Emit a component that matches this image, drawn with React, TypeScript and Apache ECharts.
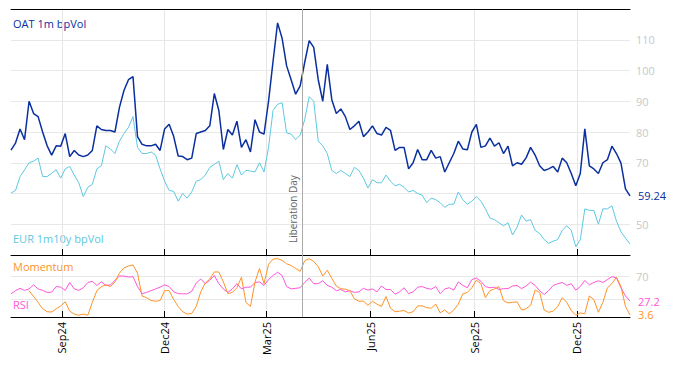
import React, { useEffect, useRef } from "react";
import * as echarts from "echarts";

// Sample dates: every STEP_DAYS calendar days starting at START (UTC)
const START = Date.UTC(2024, 6, 18);
const END = Date.UTC(2026, 0, 17);
const STEP_DAYS = 4;

const tickDates = [
  Date.UTC(2024, 8, 1),
  Date.UTC(2024, 11, 1),
  Date.UTC(2025, 2, 1),
  Date.UTC(2025, 5, 1),
  Date.UTC(2025, 8, 1),
  Date.UTC(2025, 11, 1),
];
const tickLabels = ["Sep24", "Dec24", "Mar25", "Jun25", "Sep25", "Dec25"];
const volAxisLabels = [50, 70, 80, 90, 100, 110];
const liberationDay = Date.UTC(2025, 3, 2);

const oatVol = [
  74.1, 76.4, 81, 77.5, 90, 86, 85, 80, 75.5, 72.5, 75.5, 75.4, 79.5, 72, 74, 72.5, 72, 72.5, 74, 82,
  80.8, 80.5, 80.5, 80, 88, 93.5, 97, 98, 78.5, 76, 75.5, 75.5, 76, 74, 81,
  82.5, 78.6, 72.2, 72, 71, 71.5, 79.5, 80, 80.5, 82, 92.5, 87, 74.3, 80.8, 79, 83.5, 75, 77.5, 73.5, 84,
  80, 79.3, 90, 103, 115.5, 110.5, 101.5, 97, 92.3, 95, 102.6, 109.7, 107.5, 97,
  90, 102, 90.5, 86, 87.5, 85, 80.8, 82, 83.5, 78.5, 80, 82, 79.5, 79, 81.5, 80.5, 74, 75, 75, 68,
  70, 74.3, 71, 71, 74, 71.5, 72, 67, 70, 73, 77, 74.5, 74.2, 80,
  82.5, 75, 75.5, 78, 75.4, 76.5, 73, 75.4, 69, 70, 69.5, 71.6, 75, 72.5, 69, 67.5, 68, 68.8, 67, 71.5,
  70, 66.5, 62.5, 66.5, 81, 69, 68, 66.5, 70, 71, 75.4, 73, 69.9, 61.5, 59.24,
];

const eurVol = [
  60.1, 61, 65.5, 67.7, 70, 70.5, 71.5, 65.5, 65.5, 66.6, 67.7, 65, 68, 68.8, 66, 63.5, 59, 62, 63, 68,
  69, 75.5, 74.5, 73, 77, 79.5, 81.5, 85, 75, 73, 73, 73.5, 72.5, 68, 64,
  61, 60.7, 57.5, 60, 58.5, 60.5, 64, 64.5, 66, 68.5, 69.5, 70.5, 64.5, 66.5, 65, 69.4, 66, 67.5, 67.3, 67,
  70, 67, 75, 87, 89, 89.5, 79.7, 79.3, 77.5, 79, 84, 91.5, 90, 77,
  75.5, 73, 67.5, 66.5, 67.5, 66.5, 65.5, 68.5, 67.5, 65, 61.8, 64.5, 63.5, 63.5, 66, 64, 62.5, 63, 62, 60.5,
  61, 60, 59.5, 57, 58.5, 58, 57, 55.5, 56.5, 56.5, 60.5, 58, 56.5, 57.5,
  59, 57.5, 55, 52, 51.5, 50.5, 49.5, 50.5, 46.5, 49, 53, 51, 51.5, 48, 47, 45, 43.8, 44.5, 45, 48,
  49.5, 48, 42.7, 45, 55, 54.5, 54.5, 50, 55, 55, 56, 51, 47.6, 45.5, 43.6,
];

const momentum = [
  null, null, null, null,
  45, 35, 25, 14, 9, 8.5, 14, 19, 26, 10, 5, 3, 5, 3, 25, 45, 52, 55, 52, 60, 75, 84, 87, 89, 75, 36,
  33, 28, 27, 28, 45, 45, 30, 18, 9, 5, 6, 18, 43, 58, 65, 77,
  77, 60, 40, 42, 50, 68, 25, 18, 60, 83, 57, 90, 99, 99.7, 97, 91, 88, 83, 78, 96, 99.7, 95, 86, 70,
  80, 66, 53, 48.3, 47.5, 45, 31, 27, 27, 20, 27, 22, 18, 35, 15, 9, 10, 11, 7, 9, 19, 19,
  16, 15, 22, 7, 12, 5.4, 12, 22, 39.6, 42, 50, 63, 57, 33, 45, 48, 52, 28, 24, 25, 26, 12, 14, 20,
  46, 42, 12, 8, 10, 18, 33, 25, 11, 3, 7, 5.5, 36, 30, 8, 25, 50, 57, 68, 52, 18, 3.6,
];

const rsi = [
  39.6, 45, 49, 45.5, 48, 55, 48, 45.5, 42, 42.5, 52, 51, 45.5, 59, 48, 45.5, 50, 59, 61, 54,
  60, 54, 55, 62.5, 70, 70, 68.3, 69, 52, 40, 42, 45, 48, 51, 55, 52, 43, 40, 39.6, 39.6, 44, 58, 65, 57, 63, 71,
  57, 48, 42, 48, 57, 48, 51, 51, 59, 60, 54, 64, 71, 76.5, 71, 52, 48, 49, 50, 59, 66.5, 57, 57, 62,
  54, 51, 45, 47, 43, 45, 42, 43, 49, 46, 48, 43, 53, 47, 47, 39, 43, 50, 40, 43, 51, 52,
  49, 47.5, 52, 40, 48, 50, 46, 60, 54, 50, 64, 66.6, 61, 52, 50, 51, 47, 48.5, 48.5, 53, 54, 48.5, 53, 59.6,
  54, 45, 38.5, 45, 54, 57, 59, 54, 57, 46, 52, 62.5, 55, 59, 62, 59, 64, 69, 67, 50, 36, 27.2,
];

const DAY = 86400000;
const withDates = (vals: (number | null)[]) =>
  vals.map((v, i) => [START + i * STEP_DAYS * DAY, v]);

const C_OAT = "#0a2f9e";
const C_EUR = "#5ec8e0";
const C_MOM = "#ff9226";
const C_RSI = "#ff55d8";
const FONT = "Open Sans";

export default function App() {
  const ref = useRef<HTMLDivElement>(null);
  useEffect(() => {
    document.body.style.margin = "0";
    const chart = echarts.init(ref.current!, null, { renderer: "svg" });
    const tickFmt = (v: number) => {
      const i = tickDates.indexOf(v);
      return i >= 0 ? tickLabels[i] : "";
    };
    const endVal = (p: any) => String(p.value[1]);
    const baseX = {
      type: "value",
      min: START,
      max: END,
      scale: true,
    };
    chart.setOption({
      animation: false,
      textStyle: { fontFamily: FONT },
      grid: [
        { left: 11, right: 44, top: 9, height: 246 },
        { left: 11, right: 44, top: 255, height: 62 },
      ],
      xAxis: [
        {
          ...baseX,
          gridIndex: 0,
          position: "bottom",
          axisLine: { show: true, lineStyle: { color: "#000", width: 1 } },
          axisTick: { show: true, inside: true, length: 6, customValues: tickDates, lineStyle: { color: "#000" } },
          axisLabel: { show: false, customValues: tickDates },
          splitLine: { show: true, lineStyle: { color: "#e6e6e6" } },
        },
        {
          ...baseX,
          gridIndex: 0,
          position: "top",
          axisLine: { show: true, lineStyle: { color: "#000", width: 1 } },
          axisTick: { show: false },
          axisLabel: { show: false },
          splitLine: { show: false },
        },
        {
          ...baseX,
          gridIndex: 1,
          position: "bottom",
          axisLine: { show: true, lineStyle: { color: "#000", width: 1 } },
          axisTick: { show: true, inside: true, length: 6, customValues: tickDates, lineStyle: { color: "#000" } },
          axisLabel: {
            show: true,
            customValues: tickDates,
            rotate: 90,
            color: "#000",
            fontSize: 11,
            fontFamily: FONT,
            margin: 5,
            formatter: tickFmt,
          },
          splitLine: { show: true, lineStyle: { color: "#e6e6e6" } },
        },
      ],
      yAxis: [
        {
          type: "value",
          gridIndex: 0,
          position: "right",
          min: 40,
          max: 120,
          interval: 10,
          axisLine: { show: false },
          axisTick: { show: false },
          axisLabel: {
            color: "#c8c8c8",
            fontSize: 11,
            fontFamily: FONT,
            margin: 6,
            customValues: volAxisLabels,
          },
          splitLine: { show: true, lineStyle: { color: "#e8e8e8" } },
        },
        {
          type: "value",
          gridIndex: 1,
          position: "right",
          min: 0,
          max: 106,
          axisLine: { show: false },
          axisTick: { show: false, customValues: [30, 70] },
          axisLabel: { color: "#c8c8c8", fontSize: 11, fontFamily: FONT, margin: 6, customValues: [70] },
          splitLine: { show: true, lineStyle: { color: "#e8e8e8" } },
        },
      ],
      series: [
        {
          name: "EUR 1m10y bpVol",
          type: "line",
          xAxisIndex: 0,
          yAxisIndex: 0,
          data: withDates(eurVol),
          symbol: "none",
          lineStyle: { color: C_EUR, width: 1 },
          itemStyle: { color: C_EUR },
        },
        {
          name: "OAT 1m bpVol",
          type: "line",
          xAxisIndex: 0,
          yAxisIndex: 0,
          data: withDates(oatVol),
          symbol: "none",
          lineStyle: { color: C_OAT, width: 1.5 },
          itemStyle: { color: C_OAT },
          endLabel: { show: true, formatter: endVal, color: C_OAT, fontSize: 11, fontFamily: FONT, distance: 8 },
          markLine: {
            silent: true,
            symbol: "none",
            lineStyle: { color: "#aaaaaa", width: 1, type: "solid" },
            label: {
              show: true,
              position: "insideStartTop",
              formatter: "Liberation Day",
              color: "#666",
              fontSize: 10,
              fontFamily: FONT,
              distance: [12, 4],
            },
            data: [{ xAxis: liberationDay }],
          },
        },
        {
          name: "RSI",
          type: "line",
          xAxisIndex: 2,
          yAxisIndex: 1,
          data: withDates(rsi),
          symbol: "none",
          lineStyle: { color: C_RSI, width: 1 },
          itemStyle: { color: C_RSI },
          endLabel: { show: true, formatter: endVal, color: C_RSI, fontSize: 11, fontFamily: FONT, distance: 8 },
        },
        {
          name: "Momentum",
          type: "line",
          xAxisIndex: 2,
          yAxisIndex: 1,
          data: withDates(momentum),
          symbol: "none",
          lineStyle: { color: C_MOM, width: 1 },
          itemStyle: { color: C_MOM },
          endLabel: { show: true, formatter: endVal, color: C_MOM, fontSize: 11, fontFamily: FONT, distance: 8 },
          markLine: {
            silent: true,
            symbol: "none",
            lineStyle: { color: "#aaaaaa", width: 1, type: "solid" },
            label: { show: false },
            data: [{ xAxis: liberationDay }],
          },
        },
      ],
      graphic: [
        { type: "text", left: 13, top: 18, style: { text: "OAT 1m bpVol", fill: C_OAT, font: `11px "${FONT}"` } },
        { type: "text", left: 13, top: 233, style: { text: "EUR 1m10y bpVol", fill: C_EUR, font: `11px "${FONT}"` } },
        { type: "text", left: 13, top: 261, style: { text: "Momentum", fill: C_MOM, font: `11px "${FONT}"` } },
        { type: "text", left: 13, top: 299, style: { text: "RSI", fill: C_RSI, font: `11px "${FONT}"` } },
      ],
    });
    return () => chart.dispose();
  }, []);
  return <div ref={ref} style={{ position: "absolute", left: 0, top: 0, width: 674, height: 366 }} />;
}
